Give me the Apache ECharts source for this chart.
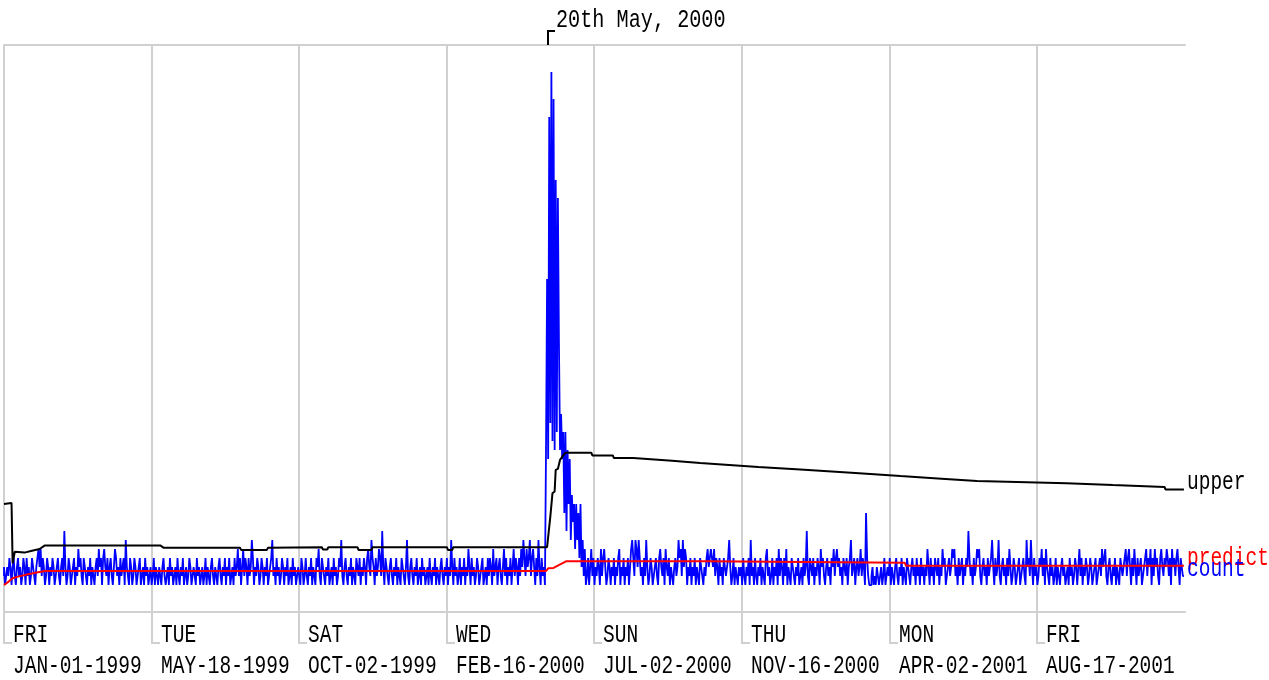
<!DOCTYPE html>
<html><head><meta charset="utf-8">
<script src="https://cdn.jsdelivr.net/npm/echarts@6/dist/echarts.min.js"></script>
<style>html,body{margin:0;padding:0;background:#fff}#c{width:1269px;height:680px}</style>
</head><body><div id="c"></div><script>
// ---- tick labels (one tick every 137 days from JAN-01-1999) ----
const tickDays = [0,137,274,411,548,685,822,959];
const tickDayNames = ['FRI','TUE','SAT','WED','SUN','THU','MON','FRI'];
const tickDates = ['JAN-01-1999','MAY-18-1999','OCT-02-1999','FEB-16-2000','JUL-02-2000','NOV-16-2000','APR-02-2001','AUG-17-2001'];

// ---- daily count, one array per 137-day period ----
const count1 = [1,2,0,1,2,1,3,2,0,2, 3,1,0,2,3,1,2,0,1,3, 2,0,3,1,2,0,1,3,2,1, 0,2,3,4,2,4,1,3,2,0, 1,3,2,0,2,1,3,2,0,1, 2,3,1,0,2,3,1,6,2,0, 1,3,2,0,1,2,3,0,2,1, 4,2,3,1,0,3,2,1,0,2, 1,3,0,2,1,0,2,3,1,4, 2,3,0,3,4,2,1,3,0,2, 3,1,0,2,4,3,1,2,0,3, 1,2,3,0,5,2,1,0,3,2, 0,1,3,2,0,1,2,3,0,1, 2,0,3,1,2,0,1];
const count2 = [2,0,1,3,0,2,1,0,2,1, 0,2,3,1,0,1,2,0,3,1, 2,0,1,2,0,3,1,0,2,1, 3,0,1,2,0,1,3,2,0,1, 2,1,0,3,1,2,0,1,2,0, 1,3,0,2,1,0,2,3,1,0, 2,1,0,2,3,1,0,2,1,3, 0,2,1,3,0,1,2,0,3,1, 2,4,1,3,0,2,4,1,3,2, 0,3,1,2,5,3,0,2,1,3, 2,0,1,3,2,0,2,1,3,0, 1,2,3,5,1,2,0,3,1,2, 0,1,3,2,0,2,1,3,0,1, 2,0,3,1,2,0,1];
const count3 = [2,1,0,3,2,0,1,3,1,0, 2,1,3,0,2,1,0,3,2,4, 1,0,3,2,1,0,2,1,3,0, 1,2,0,3,1,2,0,1,3,2, 5,1,0,2,3,1,0,2,1,3, 0,2,1,0,3,2,1,3,0,2, 1,3,2,0,3,4,2,1,5,3, 2,0,3,1,2,4,3,1,6,2, 0,3,2,1,0,2,3,1,0,2, 1,3,0,2,1,0,3,2,1,0, 2,5,1,0,2,3,1,0,2,1, 3,0,1,2,0,3,1,2,0,1, 2,0,3,1,0,2,1,3,0,2, 1,0,2,3,1,0,2];
const count4 = [1,3,0,2,1,5,2,0,3,1, 2,0,1,3,0,2,1,3,0,2, 1,4,2,0,3,1,2,0,1,3, 2,0,1,2,3,0,1,2,0,3, 1,3,2,0,4,1,2,3,0,2, 3,1,0,2,4,1,3,0,2,1, 3,0,2,4,1,3,2,0,3,1, 4,2,5,3,1,4,2,3,5,1, 3,4,2,0,3,1,5,2,0,3, 1,2,0,15,34,14,52,18,57,16, 54,15,45,17,43,27,15,19,14,17, 8,17,6,15,9,14,5,10,7,9, 4,9,5,8,3,9,2,5,1,4, 0,1,3,0,2,4,1];
const count5 = [3,0,2,1,3,2,0,4,1,3, 4,2,0,1,3,2,0,2,1,3, 0,2,1,3,4,0,2,1,3,0, 2,1,3,0,2,4,5,3,1,5, 4,2,5,3,1,2,0,3,1,5, 2,0,1,3,2,0,1,2,3,1, 0,3,4,2,1,3,0,4,2,1, 3,0,2,1,0,2,3,1,2,5, 3,4,1,5,2,4,3,0,2,1, 3,0,2,1,3,0,2,1,0,3, 2,1,0,2,1,3,4,2,3,4, 3,2,4,1,3,2,0,3,1,2, 0,3,2,1,2,3,5,2,0,1, 3,0,2,1,0,2,1];
const count6 = [2,0,3,1,0,2,1,3,0,5, 1,2,0,3,1,0,2,1,3,0, 2,1,0,3,4,1,2,0,1,3, 0,2,1,3,0,4,1,3,2,0, 3,1,4,0,2,1,0,3,2,1, 0,2,1,3,0,1,2,0,3,1, 2,6,1,0,3,2,1,3,0,2, 1,3,2,0,4,2,3,1,0,2, 3,1,2,0,3,2,4,1,3,4, 2,3,1,2,0,3,2,1,3,0, 2,3,5,1,2,3,0,2,3,1, 2,4,1,3,2,0,8,3,1,0, 0,1,2,0,1,0,2,1,0,1, 2,0,1,3,0,1,2];
const count7 = [1,3,0,2,1,0,2,3,1,0, 2,1,3,0,2,1,0,3,2,1, 0,2,3,1,2,0,3,1,2,0, 3,1,2,0,2,1,4,2,0,3, 1,2,0,3,2,1,3,0,2,1, 4,2,3,0,1,2,3,1,2,4, 3,4,1,2,0,3,1,2,3,0, 2,1,3,2,6,3,1,2,0,3, 1,2,4,3,4,1,0,2,3,1, 2,0,3,1,2,3,5,2,0,3, 1,2,5,1,0,2,3,1,2,0, 3,1,4,2,0,1,3,2,0,1, 2,3,0,1,2,3,1,0,5,2, 3,1,5,2,0,3,1];
const count8 = [2,0,1,3,2,4,1,3,0,4, 2,1,0,3,1,2,0,1,3,0, 2,1,0,2,3,1,2,0,1,2, 0,3,1,2,0,1,3,2,0,2, 4,1,3,0,2,1,3,2,0,1, 3,2,0,1,2,3,0,1,2,3, 1,4,2,3,4,1,0,2,3,1, 0,2,1,3,0,2,1,0,3,2, 1,2,3,4,1,3,4,2,0,3, 1,4,2,0,3,1,2,3,0,1, 2,3,4,1,3,2,4,0,3,1, 4,2,3,1,0,3,4,2,1,3, 2,4,3,1,3,0,4,2,3,1, 3,4,2,0,3,2,1];

// ---- upper bound and prediction, [day, value] at change points ----
const upperPts = [[0,9.0],[7,9.1],[8,2.4],[10,3.7],[19,3.6],[26,3.8],[33,4.0],[38,4.4],[145,4.4],[148,4.15],[219,4.15],[220,3.9],[244,3.9],[245,4.15],[295,4.2],[296,3.95],[300,3.95],[301,4.2],[328,4.2],[329,3.9],[341,3.9],[342,4.2],[411,4.2],[412,3.9],[416,3.9],[417,4.2],[504,4.2],[507,7.6],[509,10.2],[511,10.4],[512,12.8],[514,12.9],[516,13.9],[519,14.4],[521,14.7],[545,14.7],[546,14.4],[565,14.4],[566,14.1],[584,14.1],[585,14.0],[620,13.8],[646,13.55],[700,13.1],[739,12.83],[790,12.45],[832,12.1],[870,11.8],[903,11.55],[940,11.45],[986,11.3],[987,11.15],[1029,11.1],[1030,10.9],[1077,10.9],[1078,10.6],[1095,10.6]];
const predictPts = [[0,0],[4,0.35],[8,0.75],[12,0.9],[19,1.1],[29,1.35],[38,1.55],[503,1.55],[505,1.85],[510,1.9],[522,2.65],[653,2.65],[654,2.47],[836,2.47],[837,2.15],[1095,2.15]];

const annotDay = 505;
const annotText = '20th May, 2000';
const seriesNames = ['count','upper','predict'];

// ---- build ----
const countAll = [].concat(count1,count2,count3,count4,count5,count6,count7,count8);
const countData = countAll.map((v,i)=>[i,v]);
const Y_MIN = -3, Y_MAX = 60, X_MAX = 1096;
const FONT_FAMILY = "'Liberation Mono', monospace";
const FONT_SIZE = 19.5;
const SY = 1.3;
const GRID_COLOR = '#d0d0d0';

const chart = echarts.init(document.getElementById('c'), null, {renderer:'canvas'});

function txt(x, y, s, color, size){
  return {type:'text', x:x, y:y, scaleY:SY, z2:10,
    style:{text:s, fontSize:size || FONT_SIZE, fontFamily:FONT_FAMILY, fill:color, align:'left', verticalAlign:'middle'}};
}

function renderTick(params, api){
  const i = params.dataIndex;
  const xv = api.value(0);
  const pb = api.coord([xv, Y_MIN]);
  const pt = api.coord([xv, Y_MAX]);
  const x = Math.round(pb[0]);
  const yb = Math.round(pb[1]), yt = Math.round(pt[1]);
  return {type:'group', children:[
    {type:'line', shape:{x1:x, y1:yt, x2:x, y2:yb+31}, style:{stroke:GRID_COLOR, lineWidth:2}},
    {type:'line', shape:{x1:x-1, y1:yb+31, x2:x+8, y2:yb+31}, style:{stroke:GRID_COLOR, lineWidth:2}},
    txt(x+9, yb+23, tickDayNames[i], '#000'),
    txt(x+9, yb+54, tickDates[i], '#000')
  ]};
}

function renderAnnot(params, api){
  const pt = api.coord([api.value(0), Y_MAX]);
  const x = Math.round(pt[0]), yt = Math.round(pt[1]);
  return {type:'group', children:[
    {type:'polyline', shape:{points:[[x,yt],[x,yt-14],[x+7,yt-14]]}, style:{stroke:'#000', lineWidth:2, fill:null}},
    txt(x+8, yt-25, annotText, '#000', 20.2)
  ]};
}

const endColors = ['#0000ff','#000000','#ff0000'];
function renderEnd(params, api){
  const p = api.coord([api.value(0), api.value(1)]);
  return txt(Math.round(p[0])+3, p[1]-7, seriesNames[api.value(2)], endColors[api.value(2)]);
}

const last = countAll.length - 1;
const option = {
  animation:false,
  backgroundColor:'#ffffff',
  grid:{left:4, right:84, top:45, bottom:68, containLabel:false},
  xAxis:[
    {type:'value', min:0, max:X_MAX, position:'bottom',
      axisLine:{show:true, onZero:false, lineStyle:{color:GRID_COLOR, width:2}},
      axisTick:{show:false}, axisLabel:{show:false}, splitLine:{show:false}},
    {type:'value', min:0, max:X_MAX, position:'top',
      axisLine:{show:true, onZero:false, lineStyle:{color:GRID_COLOR, width:2}},
      axisTick:{show:false}, axisLabel:{show:false}, splitLine:{show:false}}
  ],
  yAxis:{type:'value', min:Y_MIN, max:Y_MAX, show:false, splitLine:{show:false}},
  series:[
    {type:'custom', name:'ticks', z:1, silent:true, clip:false, renderItem:renderTick,
      data:tickDays.map(d=>[d,0]), encode:{x:0,y:1}},
    {type:'line', name:seriesNames[0], z:3, data:countData, step:'start', symbol:'none', showSymbol:false,
      silent:true, lineStyle:{color:'#0000ff', width:1.8}},
    {type:'line', name:seriesNames[1], z:4, data:upperPts, symbol:'none', showSymbol:false,
      silent:true, lineStyle:{color:'#000000', width:2}},
    {type:'line', name:seriesNames[2], z:5, data:predictPts, symbol:'none', showSymbol:false,
      silent:true, lineStyle:{color:'#ff0000', width:2}},
    {type:'custom', name:'annot', z:6, silent:true, clip:false, renderItem:renderAnnot,
      data:[[annotDay,0]], encode:{x:0,y:1}},
    {type:'custom', name:'ends', z:6, silent:true, clip:false, renderItem:renderEnd,
      data:[[upperPts[upperPts.length-1][0], upperPts[upperPts.length-1][1], 1],
            [predictPts[predictPts.length-1][0], predictPts[predictPts.length-1][1], 2],
            [last, countAll[last], 0]],
      encode:{x:0,y:1}}
  ]
};
chart.setOption(option);
</script></body></html>
